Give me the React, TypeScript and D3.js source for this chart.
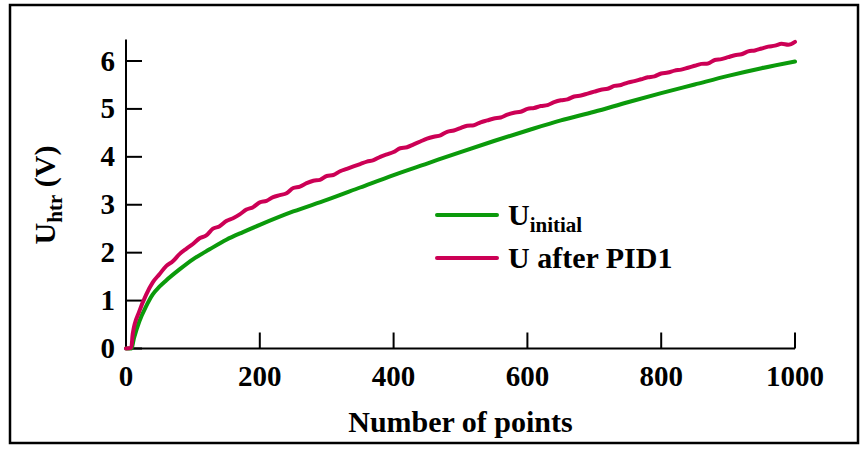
import React from 'react';
import * as d3 from 'd3';

// x = number of points, y = heater voltage (V)
const initX = [0, 8, 12, 20, 30, 40, 50, 60, 80, 100, 125, 150, 175, 200, 250, 300, 350, 400, 450, 500, 550, 600, 650, 700, 750, 800, 850, 900, 950, 1000];
const initY = [0, 0, 0.22, 0.57, 0.88, 1.13, 1.29, 1.42, 1.65, 1.86, 2.07, 2.27, 2.43, 2.58, 2.86, 3.10, 3.36, 3.62, 3.86, 4.10, 4.33, 4.55, 4.76, 4.94, 5.14, 5.33, 5.51, 5.69, 5.85, 5.99];

const pidX = [0, 8, 10, 20, 30, 40, 50, 60, 70, 80, 90, 100, 110, 120, 130, 140, 150, 160, 170, 180, 190, 200, 210, 220, 230, 240, 250, 260, 270, 280, 290, 300, 310, 320, 330, 340, 350, 360, 370, 380, 390, 400, 410, 420, 430, 440, 450, 460, 470, 480, 490, 500, 510, 520, 530, 540, 550, 560, 570, 580, 590, 600, 610, 620, 630, 640, 650, 660, 670, 680, 690, 700, 710, 720, 730, 740, 750, 760, 770, 780, 790, 800, 810, 820, 830, 840, 850, 860, 870, 880, 890, 900, 910, 920, 930, 940, 950, 960, 970, 980, 990, 1000];
const pidY = [0, 0.02, 0.3, 0.78, 1.12, 1.38, 1.55, 1.72, 1.82, 1.97, 2.08, 2.18, 2.3, 2.36, 2.5, 2.55, 2.66, 2.72, 2.8, 2.9, 2.95, 3.05, 3.08, 3.16, 3.2, 3.24, 3.35, 3.38, 3.45, 3.5, 3.52, 3.6, 3.62, 3.7, 3.75, 3.8, 3.85, 3.9, 3.93, 4.0, 4.05, 4.1, 4.18, 4.2, 4.26, 4.32, 4.38, 4.42, 4.45, 4.52, 4.55, 4.6, 4.65, 4.66, 4.72, 4.76, 4.8, 4.82, 4.88, 4.92, 4.94, 5.0, 5.02, 5.06, 5.08, 5.14, 5.18, 5.2, 5.26, 5.28, 5.32, 5.36, 5.4, 5.42, 5.48, 5.5, 5.55, 5.58, 5.62, 5.66, 5.68, 5.74, 5.76, 5.8, 5.82, 5.86, 5.9, 5.94, 5.95, 6.02, 6.04, 6.08, 6.12, 6.14, 6.2, 6.22, 6.26, 6.3, 6.32, 6.36, 6.34, 6.4];

const xTicks = [0, 200, 400, 600, 800, 1000];
const yTicks = [0, 1, 2, 3, 4, 5, 6];

const GREEN = '#0b9a0b';
const RED = '#cc0055';
const txt: React.CSSProperties = { fontFamily: 'Liberation Serif', fontWeight: 'bold' };

const W = 861;
const H = 453;

export default function App() {
  const x = d3.scaleLinear().domain([0, 1000]).range([126, 795]);
  const y = d3.scaleLinear().domain([0, 6]).range([348.5, 61]);

  const line = d3.line<[number, number]>()
    .x(d => x(d[0]))
    .y(d => y(d[1]))
    .curve(d3.curveMonotoneX);

  const initPts = initX.map((v, i) => [v, initY[i]] as [number, number]);
  const pidPts = pidX.map((v, i) => [v, pidY[i]] as [number, number]);

  const x0 = x(0);
  const y0 = y(0);
  const yTop = y(6.45);
  const tick = 16;

  return (
    <svg width={W} height={H} style={{ position: 'absolute', left: 0, top: 0, background: '#fff' }}>
      <rect x={10} y={5} width={848} height={438} fill="#fff" stroke="#000" strokeWidth={2.5} />

      {/* axes */}
      <line x1={x0} x2={x(1000)} y1={y0} y2={y0} stroke="#000" strokeWidth={2} />
      <line x1={x0} x2={x0} y1={y0} y2={yTop} stroke="#000" strokeWidth={2} />
      {xTicks.map(t => (
        <g key={'x' + t}>
          <line x1={x(t)} x2={x(t)} y1={y0} y2={y0 - tick} stroke="#000" strokeWidth={2} />
          <text x={x(t)} y={386} textAnchor="middle" fontSize={29} style={txt}>{t}</text>
        </g>
      ))}
      {yTicks.map(t => (
        <g key={'y' + t}>
          <line x1={x0} x2={x0 + tick} y1={y(t)} y2={y(t)} stroke="#000" strokeWidth={2} />
          <text x={115} y={y(t)} dy="0.33em" textAnchor="end" fontSize={29} style={txt}>{t}</text>
        </g>
      ))}

      <text x={(x0 + x(1000)) / 2} y={432} textAnchor="middle" fontSize={30} style={txt}>Number of points</text>
      <text transform={`translate(55,${195}) rotate(-90)`} textAnchor="middle" fontSize={30} style={txt}>
        U<tspan fontSize={21} dy={7}>htr</tspan><tspan dy={-7}> (V)</tspan>
      </text>

      {/* series */}
      <path d={line(initPts) || ''} fill="none" stroke={GREEN} strokeWidth={4} strokeLinecap="round" strokeLinejoin="round" />
      <path d={line(pidPts) || ''} fill="none" stroke={RED} strokeWidth={4} strokeLinecap="round" strokeLinejoin="round" />

      {/* legend */}
      <line x1={437} x2={497} y1={215} y2={215} stroke={GREEN} strokeWidth={4} strokeLinecap="round" />
      <text x={508} y={225} fontSize={30} style={txt}>
        U<tspan fontSize={21} dy={7}>initial</tspan>
      </text>
      <line x1={437} x2={497} y1={258} y2={258} stroke={RED} strokeWidth={4} strokeLinecap="round" />
      <text x={508} y={268} fontSize={30} style={txt}>U after PID1</text>
    </svg>
  );
}
